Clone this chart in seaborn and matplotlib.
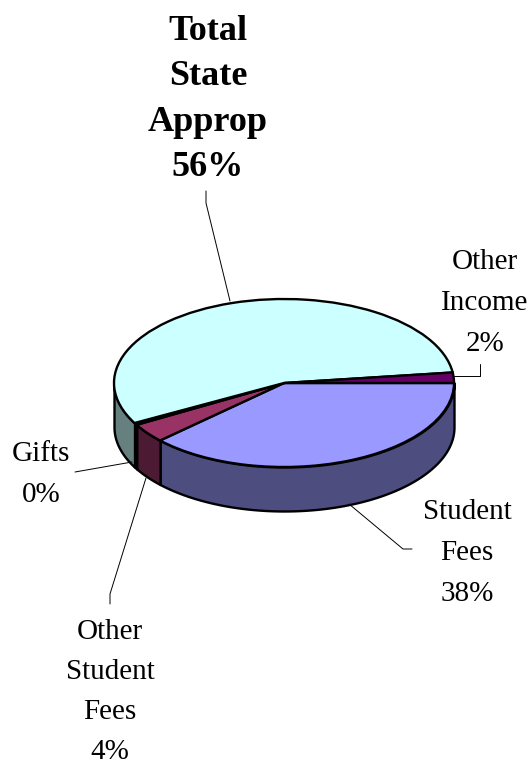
import numpy as np
import seaborn as sns
import matplotlib
matplotlib.use("Agg")
import matplotlib.pyplot as plt

# aandeel per inkomstenbron, rechtsom vanaf 3 uur
categories = ["Student Fees", "Other Student Fees", "Gifts", "Total State Approp", "Other Income"]
values = [38.0, 3.7, 0.4, 55.9, 2.0]
top_colors = ["#9999FF", "#993366", "#FFFFCC", "#CCFFFF", "#660066"]
side_colors = ["#4D4D80", "#4D1A33", "#808066", "#668080", "#330033"]
label_texts = ["Student\nFees\n38%", "Other\nStudent\nFees\n4%", "Gifts\n0%",
               "Total\nState\nApprop\n56%", "Other\nIncome\n2%"]

W, H = 531, 765
cx, cy = 284, 383      # midden van de taart in pixels
rx, ry = 170, 84
depth = 44 / ry

sns.set_theme(style="white")
plt.rcParams["font.family"] = ["Liberation Serif", "DejaVu Serif"]

fig = plt.figure(figsize=(W / 100, H / 100), dpi=100)
ax = fig.add_axes([0, 0, 1, 1])

# bovenkant
ax.pie(values, colors=top_colors, startangle=0, counterclock=False,
       wedgeprops={"edgecolor": "black", "linewidth": 1.7, "zorder": 5})
ax.set_aspect("auto")
ax.set_xlim(-cx / rx, (W - cx) / rx)
ax.set_ylim((cy - H) / ry, cy / ry)

# zijkant, alleen de onderste helft is zichtbaar
start = 0.0
for val, col in zip(values, side_colors):
    end = start - val * 3.6
    a1, a2 = max(end, -180), min(start, 0)
    if a1 < a2:
        t = np.radians(np.linspace(a1, a2, 80))
        ax.fill_between(np.cos(t), np.sin(t), np.sin(t) - depth, facecolor=col,
                        edgecolor="black", linewidth=1.7, zorder=3)
    start = end

# labels en lijntjes in pixelcoordinaten
over = fig.add_axes([0, 0, 1, 1], facecolor="none")
over.set_xlim(0, W)
over.set_ylim(H, 0)
over.axis("off")

leaders = [
    ([349, 403, 412], [504, 549, 549]),
    ([146, 110, 110], [478, 594, 604]),
    ([75, 132], [472, 462]),
    ([206, 206, 230], [191, 203, 301]),
    ([454, 480, 480], [376, 376, 364]),
]
for xs, ys in leaders:
    over.plot(xs, ys, color="black", lw=0.7)

# x-midden, y van de eerste regel, regelafstand
label_pos = [(467, 512, 41), (110, 632, 40), (41, 454, 41), (208, 31, 45.6), (485, 262, 41)]
for i, txt in enumerate(label_texts):
    x, y, step = label_pos[i]
    bold = categories[i] == "Total State Approp"
    for n, line in enumerate(txt.split("\n")):
        over.text(x, y + n * step, line, ha="center", va="center", color="black",
                  fontsize=26 if bold else 21, fontweight="bold" if bold else "normal")

fig.savefig("out.png", dpi=100)
